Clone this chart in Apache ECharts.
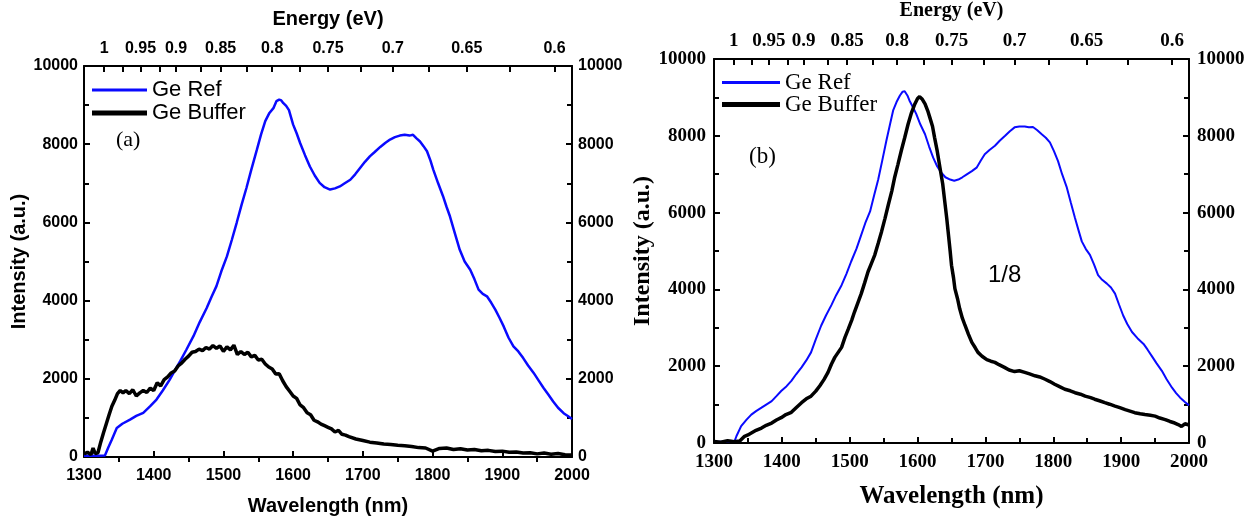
<!DOCTYPE html>
<html>
<head>
<meta charset="utf-8">
<script src="https://cdn.jsdelivr.net/npm/echarts@6/dist/echarts.min.js"></script>
<style>html,body{margin:0;padding:0;background:#fff;}#c{width:1260px;height:522px;}</style>
</head>
<body>
<div id="c"></div>
<script>
// ---------------- data ----------------
const wavelengthTicks = [1300, 1400, 1500, 1600, 1700, 1800, 1900, 2000];
const intensityTicks = [0, 2000, 4000, 6000, 8000, 10000];
const energyLabels = ['1', '0.95', '0.9', '0.85', '0.8', '0.75', '0.7', '0.65', '0.6'];
const energyTickWavelengths = [1329, 1381, 1432, 1496, 1570, 1650, 1743, 1849, 1975];
const energyMinorTickWavelengths = [1355, 1408, 1467, 1534, 1609, 1697, 1794, 1910];
const seriesNames = ['Ge Ref', 'Ge Buffer'];

// panel (a)
const refA_wl = [1300,1320,1330,1335,1340,1347,1355,1366,1375,1385,1395,1404,1413,1423,1430,1438,1447,1457,1466,1476,1483,1490,1497,1505,1512,1519,1526,1533,1540,1548,1554,1560,1566,1572,1576,1580,1583,1586,1590,1594,1600,1605,1610,1617,1624,1631,1638,1645,1653,1660,1667,1674,1682,1689,1696,1703,1710,1717,1725,1732,1739,1746,1753,1760,1767,1772,1777,1782,1787,1792,1797,1801,1808,1815,1820,1825,1832,1839,1846,1854,1860,1866,1872,1878,1884,1890,1896,1902,1909,1916,1923,1930,1937,1945,1952,1959,1966,1973,1980,1988,1994,2000];
const refA_int = [30,30,40,250,450,740,850,955,1050,1130,1300,1470,1700,1980,2200,2450,2750,3090,3450,3810,4100,4370,4750,5130,5550,5990,6450,6880,7350,7860,8250,8590,8800,8930,9100,9140,9120,9050,8980,8870,8500,8280,8030,7720,7430,7200,7010,6900,6840,6870,6920,7000,7090,7230,7390,7550,7690,7800,7930,8030,8120,8180,8220,8240,8220,8240,8150,8070,7950,7820,7580,7350,7000,6670,6400,6150,5720,5300,5000,4790,4550,4280,4170,4110,3950,3770,3560,3340,3050,2830,2700,2530,2340,2150,1960,1770,1600,1420,1260,1120,1050,970];
const bufA_wl = [1300,1305,1310,1313,1316,1320,1324,1328,1332,1336,1340,1344,1348,1352,1356,1360,1365,1370,1375,1380,1385,1390,1395,1400,1405,1410,1415,1420,1425,1430,1435,1440,1445,1450,1455,1460,1465,1470,1475,1480,1485,1490,1495,1500,1505,1510,1515,1520,1525,1530,1535,1540,1545,1550,1555,1560,1565,1570,1575,1580,1585,1590,1595,1600,1605,1610,1615,1620,1625,1630,1635,1640,1645,1650,1655,1660,1665,1670,1675,1680,1690,1700,1710,1720,1730,1740,1750,1760,1770,1780,1790,1800,1810,1820,1830,1840,1850,1860,1870,1880,1890,1900,1910,1920,1930,1940,1950,1960,1970,1980,1990,2000];
const bufA_int = [80,120,60,230,90,110,380,620,850,1080,1300,1450,1620,1700,1640,1700,1620,1720,1560,1640,1700,1650,1760,1700,1900,1820,1980,2050,2150,2200,2330,2400,2500,2580,2680,2700,2760,2720,2800,2760,2850,2780,2840,2700,2820,2740,2860,2620,2700,2620,2680,2560,2600,2480,2500,2380,2300,2250,2120,2130,1950,1800,1680,1560,1500,1330,1260,1130,1080,940,900,840,800,760,720,640,680,580,560,520,460,420,380,360,330,320,300,290,270,240,230,150,220,230,190,210,180,190,160,170,140,150,120,130,100,110,80,100,70,90,60,50];

// panel (b)
const refB_wl = [1300,1330,1333,1340,1348,1355,1362,1370,1377,1385,1392,1399,1407,1414,1421,1429,1436,1443,1450,1458,1465,1473,1480,1488,1495,1502,1510,1517,1523,1530,1536,1542,1548,1554,1559,1564,1569,1574,1578,1581,1585,1588,1593,1598,1604,1611,1617,1623,1629,1635,1641,1648,1654,1660,1666,1672,1680,1687,1693,1699,1706,1714,1721,1729,1736,1743,1750,1758,1764,1770,1776,1783,1789,1795,1801,1807,1813,1820,1826,1832,1837,1842,1848,1854,1860,1866,1872,1879,1885,1891,1897,1903,1909,1916,1924,1933,1939,1945,1952,1960,1967,1975,1981,1987,1994,2000];
const refB_int = [30,30,175,440,610,740,830,920,1000,1090,1220,1355,1480,1620,1790,1970,2150,2360,2700,3060,3320,3590,3850,4110,4400,4720,5060,5420,5730,6030,6450,6860,7360,7870,8270,8660,8880,9050,9150,9160,9050,8920,8750,8570,8300,8040,7720,7430,7200,7040,6920,6860,6830,6860,6920,6990,7080,7170,7350,7520,7630,7740,7870,8000,8120,8220,8240,8240,8220,8230,8150,8040,7950,7830,7600,7340,7000,6650,6250,5860,5550,5250,5050,4900,4650,4370,4250,4150,4050,3890,3600,3320,3100,2890,2730,2580,2430,2270,2080,1880,1660,1440,1300,1180,1070,980];
const bufB_wl = [1300,1310,1320,1330,1338,1345,1350,1355,1362,1370,1377,1385,1392,1399,1406,1414,1421,1429,1436,1443,1450,1456,1462,1468,1473,1478,1483,1488,1493,1498,1503,1507,1512,1517,1522,1527,1532,1537,1542,1547,1552,1557,1562,1566,1571,1576,1581,1586,1591,1596,1600,1603,1607,1611,1615,1618,1622,1625,1629,1633,1637,1640,1643,1645,1648,1650,1653,1655,1659,1662,1666,1670,1675,1680,1685,1689,1695,1702,1708,1714,1720,1728,1735,1743,1750,1758,1765,1773,1780,1788,1795,1802,1810,1817,1825,1832,1840,1847,1855,1861,1868,1876,1883,1891,1898,1906,1913,1920,1928,1935,1943,1950,1957,1965,1972,1979,1984,1989,1994,2000];
const bufB_int = [40,20,60,30,50,175,210,260,330,390,460,520,600,660,740,800,920,1050,1150,1220,1350,1490,1650,1840,2050,2230,2360,2490,2750,2970,3200,3410,3650,3890,4170,4460,4680,4900,5200,5510,5850,6210,6560,6900,7250,7610,7950,8300,8600,8830,8970,9020,8950,8830,8650,8480,8250,7960,7600,7170,6750,6300,5850,5510,5000,4630,4300,4020,3750,3500,3250,3060,2830,2620,2480,2360,2260,2170,2130,2100,2040,1970,1900,1860,1880,1840,1800,1750,1720,1660,1600,1530,1460,1400,1360,1310,1270,1220,1180,1140,1100,1050,1010,960,920,870,830,790,760,740,720,700,650,610,560,520,480,430,500,470];

// ---------------- chart ----------------
const pairs = (xs, ys) => xs.map((x, i) => [x, ys[i]]);
const SANS = 'Liberation Sans';
const SERIF = 'Liberation Serif';
const BLUE = '#0a0aff';
const energyAllTicks = energyTickWavelengths.concat(energyMinorTickWavelengths);
function energyFmt(v) {
  for (let i = 0; i < energyTickWavelengths.length; i++) {
    if (Math.abs(energyTickWavelengths[i] - v) < 0.01) return energyLabels[i];
  }
  return '';
}

function panelAxes(gridIndex, font, tickSize, nameSize, xNameSize, yNameSize, opts) {
  const lineStyle = { color: '#000', width: 2 };
  const label = { fontFamily: font, fontWeight: 'bold', fontSize: tickSize, color: '#000' };
  const xBottom = {
    type: 'value', gridIndex, position: 'bottom', min: 1300, max: 2000, interval: 100,
    axisLine: { show: true, lineStyle, onZero: false },
    axisTick: { show: true, inside: true, length: 6, lineStyle: { color: '#000', width: 2 } },
    minorTick: { show: true, splitNumber: 2, length: opts.xMinorLen, lineStyle: { color: '#000', width: 2 } },
    splitLine: { show: false },
    axisLabel: Object.assign({ margin: opts.xLabelMargin, formatter: v => wavelengthTicks.includes(v) ? String(v) : '' }, label),
    name: 'Wavelength (nm)', nameLocation: 'middle', nameGap: opts.xNameGap,
    nameTextStyle: { fontFamily: font, fontWeight: 'bold', fontSize: xNameSize, color: '#000' }
  };
  const xTop = {
    type: 'value', gridIndex, position: 'top', min: 1300, max: 2000,
    axisLine: { show: true, lineStyle, onZero: false },
    axisTick: { show: true, inside: true, length: 6, customValues: energyAllTicks, lineStyle: { color: '#000', width: 2 } },
    splitLine: { show: false },
    axisLabel: Object.assign({ margin: opts.topLabelMargin, customValues: energyTickWavelengths, formatter: energyFmt }, label),
    name: 'Energy (eV)', nameLocation: 'middle', nameGap: opts.topNameGap,
    nameTextStyle: { fontFamily: font, fontWeight: 'bold', fontSize: nameSize, color: '#000' }
  };
  const yCommon = {
    type: 'value', gridIndex, min: 0, max: 10000, interval: 2000,
    axisLine: { show: true, lineStyle, onZero: false },
    axisTick: { show: true, inside: true, length: 6, lineStyle: { color: '#000', width: 2 } },
    minorTick: { show: true, splitNumber: 2, length: 5, lineStyle: { color: '#000', width: 2 } },
    splitLine: { show: false }
  };
  const yLeft = Object.assign({}, yCommon, {
    position: 'left',
    axisLabel: Object.assign({ margin: opts.yLabelMargin, formatter: v => intensityTicks.includes(v) ? String(v) : '' }, label),
    name: 'Intensity (a.u.)', nameLocation: 'middle', nameGap: opts.yNameGap, nameRotate: 90,
    nameTextStyle: { fontFamily: font, fontWeight: 'bold', fontSize: yNameSize, color: '#000' }
  });
  const yRight = Object.assign({}, yCommon, {
    position: 'right',
    axisLabel: Object.assign({ margin: opts.yLabelMargin, formatter: v => intensityTicks.includes(v) ? String(v) : '' }, label)
  });
  return { x: [xBottom, xTop], y: [yLeft, yRight] };
}

const A = panelAxes(0, SANS, 16, 20, 20, 20, { xMinorLen: -5, xLabelMargin: 11, xNameGap: 39, topLabelMargin: 9, topNameGap: 37, yLabelMargin: 6, yNameGap: 54 });
const B = panelAxes(1, SERIF, 19, 20, 25, 24, { xMinorLen: 5, xLabelMargin: 10, xNameGap: 41, topLabelMargin: 8, topNameGap: 38, yLabelMargin: 8, yNameGap: 52 });

function legendItem(name, left, top, h, font, size, w) {
  return { orient: 'vertical', left, top, icon: 'rect', itemWidth: w, itemHeight: h, padding: 0,
    selectedMode: false, data: [name], textStyle: { fontFamily: font, fontSize: size, color: '#000' } };
}

const chart = echarts.init(document.getElementById('c'), null, { renderer: 'canvas' });
chart.setOption({
  animation: false,
  backgroundColor: '#fff',
  grid: [
    { left: 84, top: 66, width: 488, height: 391, outerBoundsMode: 'none' },
    { left: 714, top: 59, width: 475, height: 384, outerBoundsMode: 'none' }
  ],
  xAxis: [A.x[0], A.x[1], B.x[0], B.x[1]],
  yAxis: [A.y[0], A.y[1], B.y[0], B.y[1]],
  legend: [
    legendItem(seriesNames[0], 92, 79, 3, SANS, 22, 55),
    legendItem(seriesNames[1], 92, 102, 5, SANS, 22, 55),
    legendItem(seriesNames[0], 722, 71, 3, SERIF, 23, 58),
    legendItem(seriesNames[1], 722, 93, 5, SERIF, 23, 58)
  ],
  series: [
    { name: seriesNames[0], type: 'line', xAxisIndex: 0, yAxisIndex: 0, symbol: 'none', data: pairs(refA_wl, refA_int), lineStyle: { color: BLUE, width: 2.5 }, itemStyle: { color: BLUE } },
    { name: seriesNames[1], type: 'line', xAxisIndex: 0, yAxisIndex: 0, symbol: 'none', data: pairs(bufA_wl, bufA_int), lineStyle: { color: '#000', width: 3.5 }, itemStyle: { color: '#000' } },
    { name: seriesNames[0], type: 'line', xAxisIndex: 2, yAxisIndex: 2, symbol: 'none', data: pairs(refB_wl, refB_int), lineStyle: { color: BLUE, width: 2 }, itemStyle: { color: BLUE } },
    { name: seriesNames[1], type: 'line', xAxisIndex: 2, yAxisIndex: 2, symbol: 'none', data: pairs(bufB_wl, bufB_int), lineStyle: { color: '#000', width: 3.5 }, itemStyle: { color: '#000' } }
  ],
  graphic: [
    { type: 'text', left: 116, top: 129, style: { text: '(a)', font: '22px "Liberation Serif"', fill: '#000' } },
    { type: 'text', left: 749, top: 145, style: { text: '(b)', font: '23px "Liberation Serif"', fill: '#000' } },
    { type: 'text', left: 988, top: 263, style: { text: '1/8', font: '24px "Liberation Sans"', fill: '#000' } }
  ]
});
</script>
</body>
</html>
